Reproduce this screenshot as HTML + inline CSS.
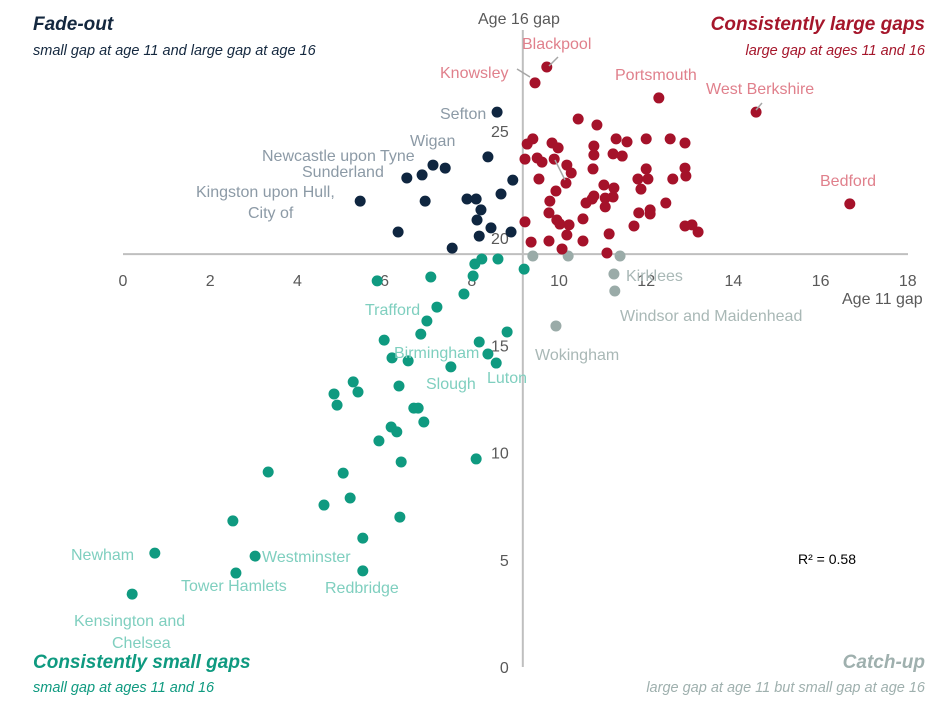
<!DOCTYPE html>
<html><head><meta charset="utf-8"><style>
body{margin:0;background:#fff}
svg{display:block;font-family:"Liberation Sans",sans-serif}
</style></head><body>
<svg id="chart" width="940" height="722" viewBox="0 0 940 722" xmlns="http://www.w3.org/2000/svg">
<g id="axes"></g>
<g id="marks"></g>
<g id="labels"></g>
<text x="33" y="30" font-size="19" font-weight="bold" font-style="italic" fill="#14283f">Fade-out</text>
<text x="33" y="55" font-size="14.5" font-style="italic" fill="#14283f">small gap at age 11 and large gap at age 16</text>
<text x="925" y="30" text-anchor="end" font-size="19" font-weight="bold" font-style="italic" fill="#a5162b">Consistently large gaps</text>
<text x="925" y="55" text-anchor="end" font-size="14.5" font-style="italic" fill="#a5162b">large gap at ages 11 and 16</text>
<text x="33" y="668" font-size="19" font-weight="bold" font-style="italic" fill="#0f9a80">Consistently small gaps</text>
<text x="33" y="692" font-size="14.5" font-style="italic" fill="#0f9a80">small gap at ages 11 and 16</text>
<text x="925" y="668" text-anchor="end" font-size="19" font-weight="bold" font-style="italic" fill="#9fb0ae">Catch-up</text>
<text x="925" y="692" text-anchor="end" font-size="14.5" font-style="italic" fill="#9fb0ae">large gap at age 11 but small gap at age 16</text>
<text x="478" y="24" font-size="16" fill="#595959">Age 16 gap</text>
<text x="842" y="304" font-size="16" fill="#595959">Age 11 gap</text>
<text x="798" y="564" font-size="14" fill="#000">R² = 0.58</text>
</svg>
<script>
const xTicks=[0,2,4,6,8,10,12,14,16,18];
const yTicks=[0,5,10,15,20,25];
const crossX=9.17, crossY=19.25;
const navyX=[8.58,8.37,7.11,7.39,6.51,6.86,8.94,5.44,6.93,7.89,8.10,8.67,8.21,8.12,8.44,6.31,8.17,8.90,7.55];
const navyY=[25.87,23.78,23.40,23.26,22.80,22.94,22.70,21.72,21.72,21.82,21.82,22.05,21.31,20.84,20.47,20.28,20.09,20.28,19.53];
const redX=[12.29,10.44,10.87,9.27,9.40,9.84,9.98,10.80,11.31,11.56,12.00,12.55,12.89,9.22,9.50,9.61,9.89,10.18,10.28,10.80,11.24,11.45,10.78,12.00,12.89,12.91,9.54,10.16,11.81,12.04,12.61,11.03,11.26,11.88,9.93,9.79,10.80,11.06,11.24,10.62,12.45,11.06,10.76,9.77,11.83,12.09,12.09,9.22,9.95,10.02,10.23,10.55,11.72,12.89,13.05,13.19,10.18,11.15,9.36,9.77,10.55,10.07,11.10,9.72,9.45,14.52,16.67];
const redY=[26.53,25.55,25.27,24.38,24.62,24.43,24.20,24.29,24.62,24.48,24.62,24.62,24.43,23.68,23.73,23.54,23.68,23.40,23.03,23.87,23.92,23.82,23.22,23.22,23.26,22.89,22.75,22.56,22.75,22.75,22.75,22.47,22.33,22.28,22.19,21.72,21.96,21.86,21.91,21.63,21.63,21.45,21.82,21.17,21.17,21.31,21.12,20.75,20.84,20.65,20.61,20.89,20.56,20.56,20.61,20.28,20.14,20.19,19.81,19.86,19.86,19.49,19.30,27.97,27.23,25.87,21.59];
const greyX=[9.40,10.21,11.40,11.26,11.28,9.93];
const greyY=[19.16,19.16,19.16,18.32,17.53,15.90];
const tealX=[8.23,8.07,8.60,9.20,8.03,7.06,5.83,7.82,7.20,6.97,6.83,5.99,8.81,8.17,8.37,8.56,6.17,6.54,7.52,5.28,5.39,4.84,4.91,6.33,6.67,6.77,6.90,6.15,6.28,5.87,8.10,6.38,3.33,5.05,5.21,4.61,2.52,6.35,5.50,0.73,3.03,2.59,5.50,0.21];
const tealY=[19.02,18.79,19.02,18.55,18.23,18.18,18.00,17.39,16.78,16.13,15.52,15.24,15.62,15.15,14.59,14.17,14.41,14.27,13.99,13.29,12.82,12.73,12.21,13.10,12.07,12.07,11.42,11.19,10.96,10.54,9.70,9.56,9.09,9.04,7.88,7.55,6.81,6.99,6.01,5.31,5.17,4.38,4.48,3.40];
const NS="http://www.w3.org/2000/svg";
const sx=v=>123+v*43.6, sy=v=>667-v*21.45;
function mk(tag,attrs,parent){const e=document.createElementNS(NS,tag);for(const k in attrs)e.setAttribute(k,attrs[k]);parent.appendChild(e);return e;}
const axes=document.getElementById('axes');
let l=mk('line',{x1:123,x2:908,y1:sy(crossY),y2:sy(crossY),stroke:'#bfbfbf','stroke-width':2},axes);


l=mk('line',{x1:sx(crossX),x2:sx(crossX),y1:30,y2:667,stroke:'#bfbfbf','stroke-width':2},axes);


xTicks.forEach(t=>{const e=mk('text',{x:sx(t),y:sy(crossY)+32,'text-anchor':'middle','font-size':16,fill:'#595959'},axes);e.textContent=t;

});
yTicks.forEach(t=>{const e=mk('text',{x:sx(crossX)-14,y:sy(t)+6,'text-anchor':'end','font-size':16,fill:'#595959'},axes);e.textContent=t;

});
const marks=document.getElementById('marks');
function series(xs,ys,col,name){xs.forEach((x,i)=>{const c=mk('circle',{cx:sx(x),cy:sy(ys[i]),r:5.5,fill:col},marks);

});}
series(greyX,greyY,'#9aaba8','catch-up-point');
series(tealX,tealY,'#0f9a80','small-gap-point');
series(navyX,navyY,'#0f2640','fade-out-point');
series(redX,redY,'#a5122a','large-gap-point');
const labs=document.getElementById('labels');
const L=[
["Blackpool",522,49,'start','#e0808c'],["Knowsley",440,78,'start','#e0808c'],["Portsmouth",615,80,'start','#e0808c'],["West Berkshire",706,94,'start','#e0808c'],["Bedford",820,186,'start','#e0808c'],
["Sefton",440,119,'start','#8c9aa6'],["Wigan",410,146,'start','#8c9aa6'],["Newcastle upon Tyne",262,161,'start','#8c9aa6'],["Sunderland",302,177,'start','#8c9aa6'],["Kingston upon Hull,",196,197,'start','#8c9aa6'],["City of",248,218,'start','#8c9aa6'],
["Kirklees",626,281,'start','#a9b8b6'],["Windsor and Maidenhead",620,321,'start','#a9b8b6'],["Wokingham",535,360,'start','#a9b8b6'],
["Trafford",365,315,'start','#7fcfbf'],["Birmingham",394,358,'start','#7fcfbf'],["Slough",426,389,'start','#7fcfbf'],["Luton",487,383,'start','#7fcfbf'],["Newham",71,560,'start','#7fcfbf'],["Westminster",262,562,'start','#7fcfbf'],["Tower Hamlets",181,591,'start','#7fcfbf'],["Redbridge",325,593,'start','#7fcfbf'],["Kensington and",74,626,'start','#7fcfbf'],["Chelsea",112,648,'start','#7fcfbf']];
L.forEach(a=>{const e=mk('text',{x:a[1],y:a[2],'text-anchor':a[3],'font-size':16,fill:a[4]},labs);e.textContent=a[0];

});
[[558,57,549,66],[517,69,530,77],[762,103,756,110],[555,160,565,180]].forEach(s=>{const e=mk('line',{x1:s[0],y1:s[1],x2:s[2],y2:s[3],stroke:'#a6a6a6','stroke-width':1.5},labs);

});
</script>
</body></html>
